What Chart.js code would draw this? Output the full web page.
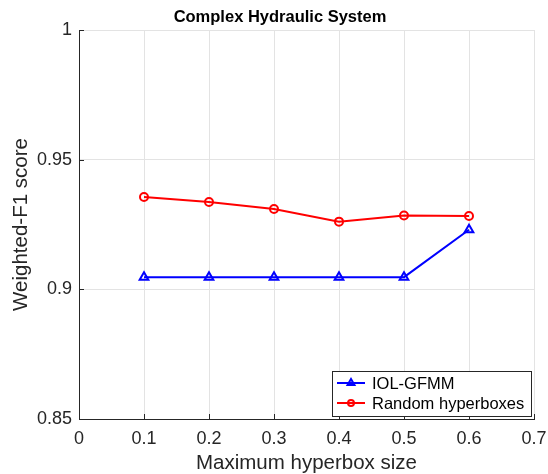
<!DOCTYPE html>
<html>
<head>
<meta charset="utf-8">
<script src="https://cdn.jsdelivr.net/npm/chart.js@4.4.1/dist/chart.umd.min.js"></script>
<style>
  html, body { margin: 0; padding: 0; background: #fff; }
  #wrap { width: 548px; height: 474px; }
</style>
</head>
<body>
<div id="wrap"><canvas id="chart" width="548" height="474"></canvas></div>
<script>
// Data
const hyperboxSizes = [0.1, 0.2, 0.3, 0.4, 0.5, 0.6];
const iolGfmm = [0.9047, 0.9047, 0.9047, 0.9047, 0.9047, 0.9230];
const randomHyperboxes = [0.9356, 0.9337, 0.9310, 0.9261, 0.9285, 0.9283];
const xTicks = [0, 0.1, 0.2, 0.3, 0.4, 0.5, 0.6, 0.7];
const yTicks = [0.85, 0.9, 0.95, 1];
const chartTitle = 'Complex Hydraulic System';

const FONT = "'Liberation Sans', Arial, Helvetica, sans-serif";
const AXIS_COLOR = '#262626';

function toPoints(xs, ys) {
    return xs.map((x, i) => ({ x: x, y: ys[i] }));
}

// Title drawn centred over the figure like MATLAB does
const figureTitle = {
    id: 'figureTitle',
    afterDraw(chart) {
        const { ctx } = chart;
        ctx.save();
        ctx.font = 'bold 16.5px ' + FONT;
        ctx.fillStyle = '#000';
        ctx.textAlign = 'center';
        ctx.textBaseline = 'middle';
        ctx.fillText(chartTitle, 280, 17);
        ctx.restore();
    }
};

// MATLAB-style inward tick marks on left and bottom axes
const inwardTicks = {
    id: 'inwardTicks',
    afterDatasetsDraw(chart) {
        const { ctx, chartArea, scales } = chart;
        ctx.save();
        ctx.strokeStyle = AXIS_COLOR;
        ctx.lineWidth = 1;
        ctx.beginPath();
        yTicks.forEach(v => {
            const y = Math.round(scales.y.getPixelForValue(v)) + 0.5;
            ctx.moveTo(chartArea.left, y);
            ctx.lineTo(chartArea.left + 5, y);
        });
        xTicks.forEach(v => {
            const x = Math.round(scales.x.getPixelForValue(v)) + 0.5;
            ctx.moveTo(x, chartArea.bottom);
            ctx.lineTo(x, chartArea.bottom - 5);
        });
        ctx.stroke();
        ctx.restore();
    }
};

// Legend box drawn inside the plot, bottom right
const insideLegend = {
    id: 'insideLegend',
    afterDraw(chart) {
        const { ctx, chartArea } = chart;
        const w = 199, h = 45;
        const x0 = chartArea.right - 3 - w;
        const y0 = chartArea.bottom - 3 - h;
        ctx.save();
        ctx.fillStyle = '#fff';
        ctx.fillRect(x0, y0, w, h);
        ctx.strokeStyle = AXIS_COLOR;
        ctx.lineWidth = 1;
        ctx.strokeRect(Math.round(x0) + 0.5, Math.round(y0) + 0.5, w, h);
        ctx.font = '16.5px ' + FONT;
        ctx.textBaseline = 'middle';
        chart.data.datasets.forEach((ds, i) => {
            const cy = y0 + 12 + i * 20;
            ctx.strokeStyle = ds.borderColor;
            ctx.lineWidth = 2;
            ctx.beginPath();
            ctx.moveTo(x0 + 5, cy);
            ctx.lineTo(x0 + 33, cy);
            ctx.stroke();
            const opts = { pointStyle: ds.pointStyle, radius: ds.pointRadius - 1, borderWidth: 2 };
            ctx.fillStyle = 'rgba(0,0,0,0)';
            Chart.helpers.drawPoint(ctx, opts, x0 + 19, cy);
            ctx.fillStyle = '#000';
            ctx.fillText(ds.label, x0 + 40, cy + 1);
        });
        ctx.restore();
    }
};

new Chart(document.getElementById('chart'), {
    type: 'line',
    data: {
        datasets: [
            {
                label: 'IOL-GFMM',
                data: toPoints(hyperboxSizes, iolGfmm),
                borderColor: '#0000ff',
                backgroundColor: 'rgba(0,0,0,0)',
                pointBackgroundColor: 'rgba(0,0,0,0)',
                pointBorderColor: '#0000ff',
                borderWidth: 2,
                pointStyle: 'triangle',
                pointRadius: 5,
                pointBorderWidth: 2,
                tension: 0
            },
            {
                label: 'Random hyperboxes',
                data: toPoints(hyperboxSizes, randomHyperboxes),
                borderColor: '#ff0000',
                backgroundColor: 'rgba(0,0,0,0)',
                pointBackgroundColor: 'rgba(0,0,0,0)',
                pointBorderColor: '#ff0000',
                borderWidth: 2,
                pointStyle: 'circle',
                pointRadius: 4,
                pointBorderWidth: 2,
                tension: 0
            }
        ]
    },
    options: {
        responsive: false,
        animation: false,
        devicePixelRatio: 1,
        layout: { padding: { left: 0, right: 14, top: 30, bottom: 0 } },
        plugins: {
            legend: { display: false },
            tooltip: { enabled: false },
            title: { display: false }
        },
        scales: {
            x: {
                type: 'linear',
                min: 0,
                max: 0.7,
                afterBuildTicks: s => { s.ticks = xTicks.map(v => ({ value: v })); },
                afterFit: s => { s.height = 55; s.paddingLeft = 0; s.paddingRight = 0; },
                ticks: {
                    color: AXIS_COLOR,
                    padding: 9,
                    font: { family: FONT, size: 18 },
                    callback: v => String(+v.toFixed(1))
                },
                grid: { color: '#e3e3e3', drawTicks: false },
                border: { color: AXIS_COLOR, width: 1 },
                title: {
                    display: true,
                    text: 'Maximum hyperbox size',
                    color: AXIS_COLOR,
                    font: { family: FONT, size: 20.5 },
                    padding: { top: 0, bottom: -2 }
                }
            },
            y: {
                min: 0.85,
                max: 1,
                afterBuildTicks: s => { s.ticks = yTicks.map(v => ({ value: v })); },
                afterFit: s => { s.width = 79; s.paddingTop = 0; s.paddingBottom = 0; },
                ticks: {
                    color: AXIS_COLOR,
                    padding: 7,
                    font: { family: FONT, size: 18 },
                    callback: v => String(+v.toFixed(2))
                },
                grid: { color: '#e3e3e3', drawTicks: false },
                border: { color: AXIS_COLOR, width: 1 },
                title: {
                    display: true,
                    text: 'Weighted-F1 score',
                    color: AXIS_COLOR,
                    font: { family: FONT, size: 20.5 },
                    padding: { top: 9, bottom: 0 }
                }
            }
        }
    },
    plugins: [inwardTicks, insideLegend, figureTitle]
});
</script>
</body>
</html>
